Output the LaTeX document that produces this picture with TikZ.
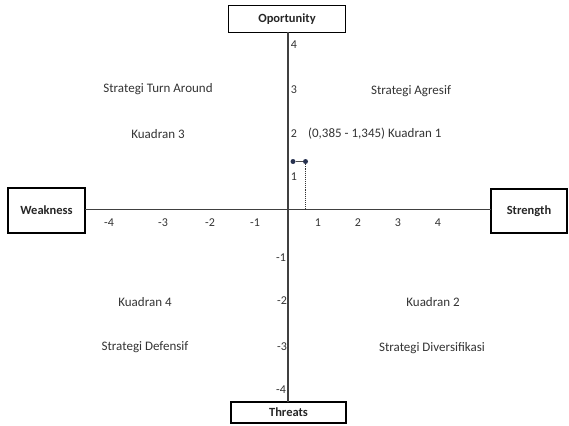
\documentclass[tikz,border=0pt]{standalone}
\usepackage{fontspec}
\setmainfont{Carlito}
\begin{document}
\begin{tikzpicture}[x=1pt,y=-1pt,
  lbl/.style={inner sep=0pt,font=\fontsize{13}{15}\selectfont,text=black!80},
  tick/.style={inner sep=0pt,font=\fontsize{12}{14}\selectfont,text=black!80},
  boxnode/.style={draw=black,line width=1.4pt,inner sep=0pt,font=\bfseries\fontsize{12.5}{14}\selectfont,text=black!85},
  axisline/.style={draw=black!75,line width=1.6pt},
  dotpt/.style={circle,fill={rgb,255:red,40;green,50;blue,80},inner sep=0pt,minimum size=5pt}]
\useasboundingbox (0,0) rectangle (569,425);
% boxes
\node[boxnode,minimum width=117pt,minimum height=27pt] (opp) at (287,19) {Oportunity};
\node[boxnode,minimum width=77pt,minimum height=45pt] (weak) at (46.5,210.5) {Weakness};
\node[boxnode,minimum width=76pt,minimum height=44pt] (str) at (529,211) {Strength};
\node[boxnode,minimum width=115pt,minimum height=21pt] (thr) at (288.5,412.5) {Threats};
% axes
\coordinate (vt) at (288,32.5);
\coordinate (vb) at (288,402);
\coordinate (hl) at (85,209.5);
\coordinate (hr) at (491,209.5);
\draw[axisline] (vt) -- (vb);
\draw[axisline] (hl) -- (hr);
% x tick labels
\node[tick] (xm4) at (109,223) {-4};
\node[tick] (xm3) at (163,223) {-3};
\node[tick] (xm2) at (210,223) {-2};
\node[tick] (xm1) at (255,223) {-1};
\node[tick] (xp1) at (318,223) {1};
\node[tick] (xp2) at (358,223) {2};
\node[tick] (xp3) at (398,223) {3};
\node[tick] (xp4) at (438,223) {4};
% y tick labels
\node[tick] (yp4) at (294,45) {4};
\node[tick] (yp3) at (294,90) {3};
\node[tick] (yp2) at (294,134) {2};
\node[tick] (yp1) at (294,177) {1};
\node[tick] (ym1) at (281,258) {-1};
\node[tick] (ym2) at (282,301) {-2};
\node[tick] (ym3) at (282,347) {-3};
\node[tick] (ym4) at (281,390) {-4};
% point
\node[dotpt] (d1) at (293,161.5) {};
\node[dotpt] (d2) at (305.5,161.5) {};
\coordinate (foot) at (305.5,208.5);
\draw[black!70,line width=0.8pt] (d1) -- (d2);
\draw[black!80,line width=1.1pt,densely dotted] (d2) -- (foot);
% labels
\node[lbl,anchor=west] (coord) at (308,134) {(0,385 - 1,345) Kuadran 1};
\node[lbl] (sta) at (411,91) {Strategi Agresif};
\node[lbl] (stt) at (158,89) {Strategi Turn Around};
\node[lbl] (k3) at (158,134) {Kuadran 3};
\node[lbl] (k4) at (145,302) {Kuadran 4};
\node[lbl] (std) at (145,347) {Strategi Defensif};
\node[lbl] (k2) at (433,302) {Kuadran 2};
\node[lbl] (stv) at (432,348) {Strategi Diversifikasi};
\end{tikzpicture}
\end{document}
